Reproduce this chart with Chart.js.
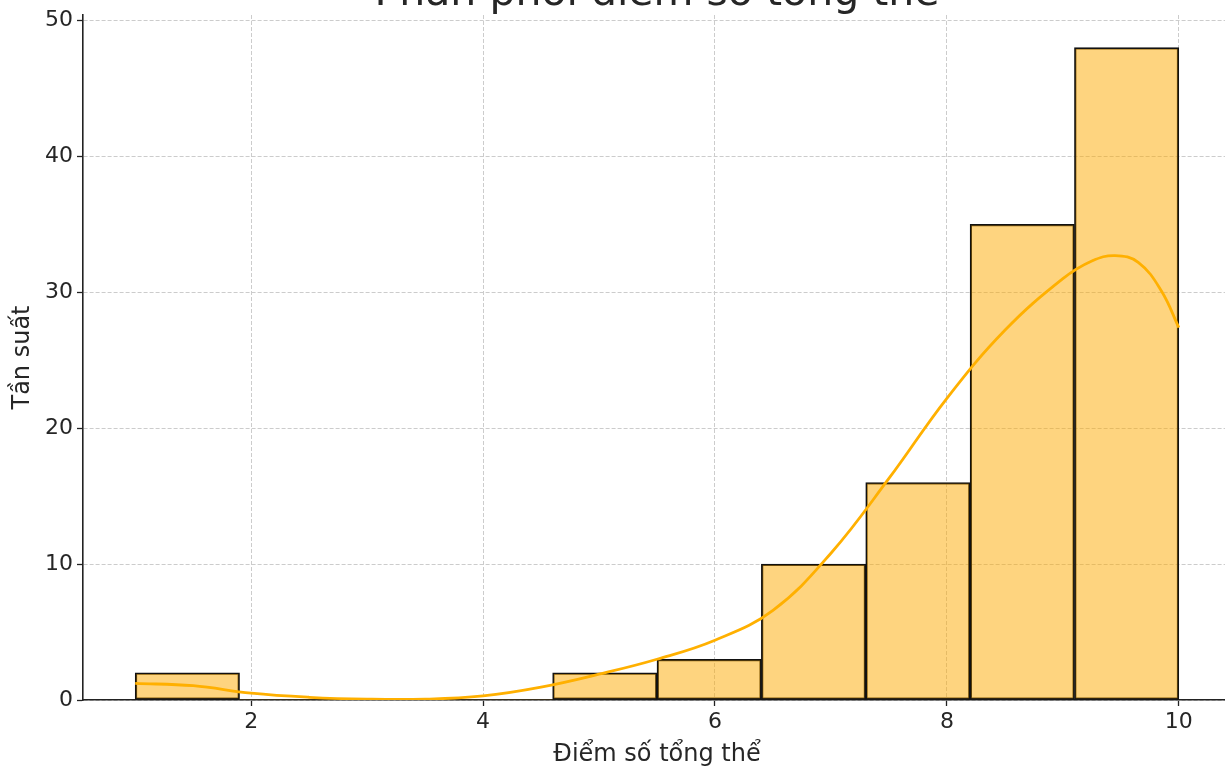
<!DOCTYPE html>
<html>
<head>
<meta charset="utf-8">
<script src="https://cdn.jsdelivr.net/npm/chart.js@4"></script>
<style>
  html, body { margin: 0; padding: 0; background: #fff; overflow: hidden; }
  #wrap { position: absolute; left: 0; top: 0; width: 1240px; height: 767px; }
</style>
</head>
<body>
<div id="wrap"><canvas id="c" width="1240" height="767"></canvas></div>
<script>
// ---- data ----
const titleText = "Phân phối điểm số tổng thể";
const xLabel = "Điểm số tổng thể";
const yLabel = "Tần suất";
const binCenters = [1.45, 2.35, 3.25, 4.15, 5.05, 5.95, 6.85, 7.75, 8.65, 9.55];
const binCounts  = [2, 0, 0, 0, 2, 3, 10, 16, 35, 48];
const kdeX = [1.0, 1.5, 2.0, 2.5, 3.0, 3.5, 4.0, 4.5, 5.0, 5.5, 6.0, 6.5, 7.0, 7.5, 8.0, 8.5, 9.0, 9.25, 9.45, 9.65, 9.85, 10.0];
const kdeY = [1.22, 1.05, 0.5, 0.2, 0.06, 0.06, 0.3, 0.95, 1.9, 3.0, 4.4, 6.6, 10.8, 16.3, 22.2, 27.2, 31.0, 32.3, 32.7, 32.2, 30.1, 27.4];
const xTicks = [2, 4, 6, 8, 10];
const yTicks = [0, 10, 20, 30, 40, 50];

const FONT = "'DejaVu Sans', sans-serif";
const txt = '#262626';

const titlePlugin = {
  id: 'topTitle',
  afterDraw(chart) {
    const ctx = chart.ctx;
    const a = chart.chartArea;
    ctx.save();
    ctx.font = "41px " + FONT;
    ctx.fillStyle = txt;
    ctx.textAlign = 'center';
    ctx.textBaseline = 'alphabetic';
    ctx.fillText(titleText, (a.left + a.right) / 2, 5);
    ctx.restore();
  }
};

new Chart(document.getElementById('c'), {
  data: {
    datasets: [
      {
        type: 'line',
        data: kdeX.map((x, i) => ({x: x, y: kdeY[i]})),
        borderColor: '#FFB000',
        borderWidth: 2.8,
        pointRadius: 0,
        tension: 0.4,
        fill: false,
        order: 0
      },
      {
        type: 'bar',
        data: binCenters.map((x, i) => ({x: x, y: binCounts[i]})),
        backgroundColor: 'rgba(253,170,0,0.5)',
        borderColor: '#111',
        borderWidth: (c) => (c.raw && c.raw.y === 0 ? 0 : 1.6),
        borderSkipped: false,
        barPercentage: 1,
        categoryPercentage: 1,
        order: 1
      }
    ]
  },
  options: {
    responsive: false,
    animation: false,
    devicePixelRatio: 1,
    layout: { padding: { top: 15, right: 9, left: 0, bottom: 0 } },
    plugins: { legend: { display: false }, tooltip: { enabled: false } },
    scales: {
      x: {
        type: 'linear',
        min: 0.55,
        max: 10.45,
        offset: false,
        afterBuildTicks: (s) => { s.ticks = xTicks.map(v => ({value: v})); },
        afterFit: (s) => { s.height = 67; s.paddingLeft = 0; s.paddingRight = 0; },
        ticks: { font: { family: FONT, size: 22 }, color: txt, padding: 3 },
        grid: { offset: false, color: '#cccccc', lineWidth: 1, tickColor: '#222', tickLength: 6, tickWidth: 1.3 },
        border: { display: true, color: '#222', width: 1.6, dash: [4, 2] },
        title: { display: true, text: xLabel, font: { family: FONT, size: 24 }, color: txt, padding: { top: 0, bottom: -2 } }
      },
      y: {
        type: 'linear',
        min: 0,
        max: 50.4,
        afterBuildTicks: (s) => { s.ticks = yTicks.map(v => ({value: v})); },
        afterFit: (s) => { s.width = 83; s.paddingTop = 0; s.paddingBottom = 0; },
        ticks: { font: { family: FONT, size: 22 }, color: txt, padding: 4 },
        grid: { color: '#cccccc', lineWidth: 1, tickColor: '#222', tickLength: 6, tickWidth: 1.3 },
        border: { display: true, color: '#222', width: 1.6, dash: [4, 2] },
        title: { display: true, text: yLabel, font: { family: FONT, size: 24 }, color: txt, padding: { top: 8, bottom: 0 } }
      }
    }
  },
  plugins: [titlePlugin]
});
</script>
</body>
</html>
